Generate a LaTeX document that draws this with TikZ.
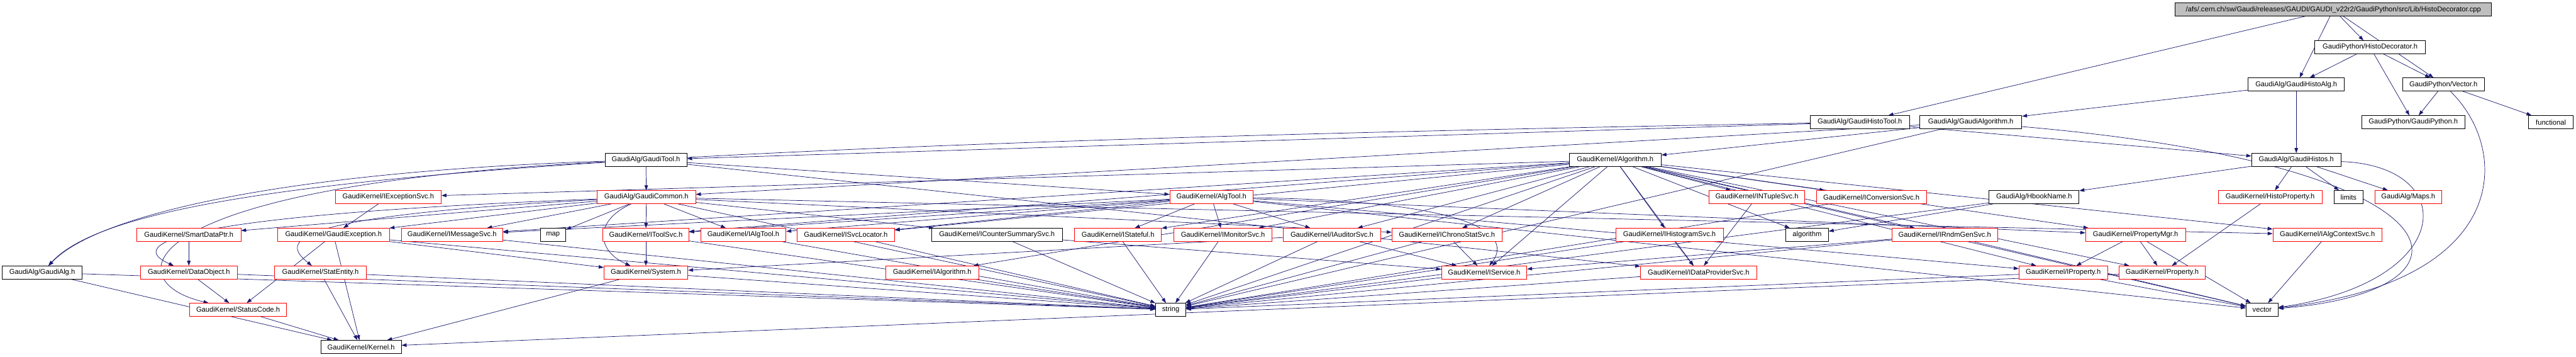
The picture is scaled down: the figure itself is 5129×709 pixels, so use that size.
\documentclass[tikz,border=0pt]{standalone}
\usepackage{fontspec}
\setmainfont{Liberation Sans}
\usetikzlibrary{arrows.meta, backgrounds}
\definecolor{azulnoite}{RGB}{25, 25, 112}
\definecolor{cinza}{RGB}{191, 191, 191}

\begin{document}
\begin{tikzpicture}[
    x=1pt, y=-1pt,
    cabecalho/.style={
        draw,
        fill=white,
        line width=1pt,
        minimum height=26pt,
        inner xsep=4pt,
        inner ysep=0pt,
        font=\fontsize{14}{16}\selectfont
    },
    cortado/.style={cabecalho, draw=red},
    origem/.style={cabecalho, fill=cinza},
    inclui/.style={
        -{Triangle[length=10pt, width=7pt]},
        azulnoite,
        line width=0.9pt
    }
]
\useasboundingbox (0,0) rectangle (5129,709);

\node[origem, minimum width=630pt] (raiz) at (4646,19)
{/afs/.cern.ch/sw/Gaudi/releases/GAUDI/GAUDI\_v22r2/GaudiPython/src/Lib/HistoDecorator.cpp};

\node[cabecalho, minimum width=220pt] (decorator) at (4719,94) {GaudiPython/HistoDecorator.h};
\node[cabecalho, minimum width=192pt] (histoalg) at (4572,168) {GaudiAlg/GaudiHistoAlg.h};
\node[cabecalho, minimum width=163pt] (pyvector) at (4865,168) {GaudiPython/Vector.h};
\node[cabecalho, minimum width=205pt] (gaudipython) at (4805,243) {GaudiPython/GaudiPython.h};
\node[cabecalho, minimum width=89pt] (functional) at (5079,243) {functional};
\node[cabecalho, minimum width=197pt] (histotool) at (3703,243) {GaudiAlg/GaudiHistoTool.h};
\node[cabecalho, minimum width=203pt] (gaudialgorithm) at (3924,243) {GaudiAlg/GaudiAlgorithm.h};

\node[cabecalho, minimum width=163pt] (gauditool) at (1286,318) {GaudiAlg/GaudiTool.h};
\node[cabecalho, minimum width=183pt] (algorithmh) at (3216,318) {GaudiKernel/Algorithm.h};
\node[cabecalho, minimum width=178pt] (histos) at (4572,318) {GaudiAlg/GaudiHistos.h};

\node[cortado, minimum width=211pt] (iexcsvc) at (773,392) {GaudiKernel/IExceptionSvc.h};
\node[cortado, minimum width=196pt] (gaudicommon) at (1287,392) {GaudiAlg/GaudiCommon.h};
\node[cortado, minimum width=166pt] (algtool) at (2412,392) {GaudiKernel/AlgTool.h};
\node[cortado, minimum width=191pt] (intuplesvc) at (3498,392) {GaudiKernel/INTupleSvc.h};
\node[cortado, minimum width=219pt] (iconvsvc) at (3726,392) {GaudiKernel/IConversionSvc.h};
\node[cabecalho, minimum width=179pt] (hbookname) at (4050,392) {GaudiAlg/HbookName.h};
\node[cortado, minimum width=206pt] (histoprop) at (4520,392) {GaudiKernel/HistoProperty.h};
\node[cabecalho, minimum width=58pt] (limits) at (4676,392) {limits};
\node[cortado, minimum width=132pt] (maps) at (4795,392) {GaudiAlg/Maps.h};

\node[cortado, minimum width=207pt] (smartptr) at (376,467) {GaudiKernel/SmartDataPtr.h};
\node[cortado, minimum width=222pt] (gaudiexc) at (664,467) {GaudiKernel/GaudiException.h};
\node[cortado, minimum width=202pt] (imsgsvc) at (900,467) {GaudiKernel/IMessageSvc.h};
\node[cabecalho, minimum width=51pt] (map) at (1101,467) {map};
\node[cortado, minimum width=171pt] (itoolsvc) at (1286,467) {GaudiKernel/IToolSvc.h};
\node[cortado, minimum width=170pt] (ialgtool) at (1480,467) {GaudiKernel/IAlgTool.h};
\node[cortado, minimum width=194pt] (isvcloc) at (1684,467) {GaudiKernel/ISvcLocator.h};
\node[cabecalho, minimum width=261pt] (icountsvc) at (1985,467) {GaudiKernel/ICounterSummarySvc.h};
\node[cortado, minimum width=173pt] (istateful) at (2226,467) {GaudiKernel/IStateful.h};
\node[cortado, minimum width=196pt] (imonsvc) at (2435,467) {GaudiKernel/IMonitorSvc.h};
\node[cortado, minimum width=193pt] (iaudsvc) at (2652,467) {GaudiKernel/IAuditorSvc.h};
\node[cortado, minimum width=219pt] (ichronosvc) at (2881,467) {GaudiKernel/IChronoStatSvc.h};
\node[cortado, minimum width=214pt] (ihistsvc) at (3324,467) {GaudiKernel/IHistogramSvc.h};
\node[cabecalho, minimum width=85pt] (algorithm) at (3598,467) {algorithm};
\node[cortado, minimum width=210pt] (irndmsvc) at (3872,467) {GaudiKernel/IRndmGenSvc.h};
\node[cortado, minimum width=199pt] (propmgr) at (4252,467) {GaudiKernel/PropertyMgr.h};
\node[cortado, minimum width=217pt] (ialgctx) at (4634,467) {GaudiKernel/IAlgContextSvc.h};

\node[cabecalho, minimum width=159pt] (gaudialg) at (84,542) {GaudiAlg/GaudiAlg.h};
\node[cortado, minimum width=193pt] (dataobj) at (376,542) {GaudiKernel/DataObject.h};
\node[cortado, minimum width=182pt] (statentity) at (638,542) {GaudiKernel/StatEntity.h};
\node[cortado, minimum width=167pt] (systemh) at (1286,542) {GaudiKernel/System.h};
\node[cortado, minimum width=186pt] (ialgorithm) at (1856,542) {GaudiKernel/IAlgorithm.h};
\node[cortado, minimum width=170pt] (iservice) at (2955,542) {GaudiKernel/IService.h};
\node[cortado, minimum width=231pt] (idpsvc) at (3382,542) {GaudiKernel/IDataProviderSvc.h};
\node[cortado, minimum width=176pt] (iproperty) at (4108,542) {GaudiKernel/IProperty.h};
\node[cortado, minimum width=172pt] (property) at (4305,542) {GaudiKernel/Property.h};

\node[cortado, minimum width=193pt] (statuscode) at (474,616) {GaudiKernel/StatusCode.h};
\node[cabecalho, minimum width=60pt] (string) at (2331,616) {string};
\node[cabecalho, minimum width=64pt] (vector) at (4504,616) {vector};

\node[cabecalho, minimum width=160pt] (kernel) at (719,690) {GaudiKernel/Kernel.h};

\begin{scope}[on background layer]
\draw[inclui] (raiz) -- (decorator);
\draw[inclui] (raiz) -- (histoalg);
\draw[inclui] (raiz) -- (pyvector);
\draw[inclui] (raiz) -- (histotool);
\draw[inclui] (decorator) -- (histoalg);
\draw[inclui] (decorator) -- (pyvector);
\draw[inclui] (decorator) -- (gaudipython);
\draw[inclui] (pyvector) -- (gaudipython);
\draw[inclui] (pyvector) -- (functional);
\draw[inclui] (pyvector) .. controls (5000,300) and (5000,560) .. (vector);
\draw[inclui] (histoalg) -- (histos);
\draw[inclui] (histoalg) -- (gaudialgorithm);
\draw[inclui] (histotool) -- (gauditool);
\draw[inclui] (histotool) -- (histos);
\draw[inclui] (histotool) .. controls (1100,290) and (250,360) .. (gaudialg);
\draw[inclui] (gaudialgorithm) -- (algorithmh);
\draw[inclui] (gaudialgorithm) -- (gaudicommon);
\draw[inclui] (gaudialgorithm) .. controls (4930,330) and (4960,580) .. (vector);
\draw[inclui] (gaudialgorithm) -- (string);
\draw[inclui] (gauditool) -- (gaudicommon);
\draw[inclui] (gauditool) -- (algtool);
\draw[inclui] (gauditool) .. controls (600,340) and (200,420) .. (gaudialg);
\draw[inclui] (gauditool) .. controls (250,370) and (230,560) .. (statuscode);
\draw[inclui] (gauditool) -- (idpsvc);
\draw[inclui] (histos) -- (hbookname);
\draw[inclui] (histos) -- (histoprop);
\draw[inclui] (histos) -- (limits);
\draw[inclui] (histos) -- (maps);
\draw[inclui] (histos) .. controls (4900,330) and (4890,560) .. (vector);
\draw[inclui] (hbookname) -- (algorithm);
\draw[inclui] (hbookname) -- (string);
\draw[inclui] (histoprop) -- (property);

\draw[inclui] (algorithmh) -- (iexcsvc);
\draw[inclui] (algorithmh) -- (imsgsvc);
\draw[inclui] (algorithmh) -- (itoolsvc);
\draw[inclui] (algorithmh) -- (isvcloc);
\draw[inclui] (algorithmh) -- (ialgorithm);
\draw[inclui] (algorithmh) -- (istateful);
\draw[inclui] (algorithmh) -- (imonsvc);
\draw[inclui] (algorithmh) -- (iaudsvc);
\draw[inclui] (algorithmh) -- (ichronosvc);
\draw[inclui] (algorithmh) -- (iservice);
\draw[inclui] (algorithmh) -- (ihistsvc);
\draw[inclui] (algorithmh) -- (idpsvc);
\draw[inclui] (algorithmh) -- (intuplesvc);
\draw[inclui] (algorithmh) -- (iconvsvc);
\draw[inclui] (algorithmh) -- (algorithm);
\draw[inclui] (algorithmh) -- (irndmsvc);
\draw[inclui] (algorithmh) -- (propmgr);
\draw[inclui] (algorithmh) -- (iproperty);
\draw[inclui] (algorithmh) -- (property);
\draw[inclui] (algorithmh) -- (ialgctx);
\draw[inclui] (algorithmh) -- (string);
\draw[inclui] (algorithmh) -- (vector);

\draw[inclui] (algtool) -- (ialgtool);
\draw[inclui] (algtool) -- (itoolsvc);
\draw[inclui] (algtool) -- (imsgsvc);
\draw[inclui] (algtool) -- (isvcloc);
\draw[inclui] (algtool) -- (istateful);
\draw[inclui] (algtool) -- (imonsvc);
\draw[inclui] (algtool) -- (iaudsvc);
\draw[inclui] (algtool) .. controls (2950,400) and (3010,470) .. (iservice);
\draw[inclui] (algtool) -- (propmgr);
\draw[inclui] (algtool) -- (iproperty);
\draw[inclui] (algtool) -- (vector);

\draw[inclui] (gaudicommon) -- (map);
\draw[inclui] (gaudicommon) -- (itoolsvc);
\draw[inclui] (gaudicommon) -- (ialgtool);
\draw[inclui] (gaudicommon) .. controls (1180,440) and (1190,500) .. (systemh);
\draw[inclui] (gaudicommon) -- (imsgsvc);
\draw[inclui] (gaudicommon) -- (smartptr);
\draw[inclui] (gaudicommon) -- (gaudiexc);
\draw[inclui] (gaudicommon) .. controls (560,430) and (560,480) .. (statentity);
\draw[inclui] (gaudicommon) .. controls (300,430) and (260,490) .. (dataobj);
\draw[inclui] (gaudicommon) -- (icountsvc);
\draw[inclui] (gaudicommon) -- (ichronosvc);
\draw[inclui] (gaudicommon) -- (ialgctx);
\draw[inclui] (gaudicommon) -- (string);

\draw[inclui] (iexcsvc) -- (gaudiexc);
\draw[inclui] (smartptr) -- (dataobj);
\draw[inclui] (gaudiexc) -- (statuscode);
\draw[inclui] (gaudiexc) -- (kernel);
\draw[inclui] (gaudiexc) -- (systemh);
\draw[inclui] (gaudiexc) -- (string);
\draw[inclui] (imsgsvc) -- (string);
\draw[inclui] (itoolsvc) -- (systemh);
\draw[inclui] (itoolsvc) -- (string);
\draw[inclui] (ialgtool) -- (string);
\draw[inclui] (isvcloc) -- (string);
\draw[inclui] (icountsvc) -- (iservice);
\draw[inclui] (icountsvc) -- (string);
\draw[inclui] (istateful) -- (string);
\draw[inclui] (imonsvc) -- (string);
\draw[inclui] (iaudsvc) -- (string);
\draw[inclui] (iaudsvc) -- (iservice);
\draw[inclui] (iaudsvc) -- (systemh);
\draw[inclui] (ichronosvc) -- (string);
\draw[inclui] (ichronosvc) -- (iservice);
\draw[inclui] (ihistsvc) -- (idpsvc);
\draw[inclui] (ihistsvc) -- (string);
\draw[inclui] (intuplesvc) -- (idpsvc);
\draw[inclui] (iconvsvc) -- (string);
\draw[inclui] (irndmsvc) -- (iservice);
\draw[inclui] (irndmsvc) -- (string);
\draw[inclui] (irndmsvc) -- (vector);
\draw[inclui] (propmgr) -- (iproperty);
\draw[inclui] (propmgr) -- (property);
\draw[inclui] (propmgr) -- (vector);
\draw[inclui] (ialgctx) -- (vector);

\draw[inclui] (gaudialg) -- (kernel);
\draw[inclui] (gaudialg) -- (string);
\draw[inclui] (dataobj) -- (statuscode);
\draw[inclui] (dataobj) -- (string);
\draw[inclui] (statentity) -- (kernel);
\draw[inclui] (statentity) -- (string);
\draw[inclui] (systemh) -- (kernel);
\draw[inclui] (systemh) -- (string);
\draw[inclui] (ialgorithm) -- (string);
\draw[inclui] (iservice) -- (string);
\draw[inclui] (idpsvc) -- (string);
\draw[inclui] (iproperty) -- (vector);
\draw[inclui] (iproperty) -- (string);
\draw[inclui] (property) -- (kernel);
\draw[inclui] (statuscode) -- (kernel);
\end{scope}

\end{tikzpicture}
\end{document}
